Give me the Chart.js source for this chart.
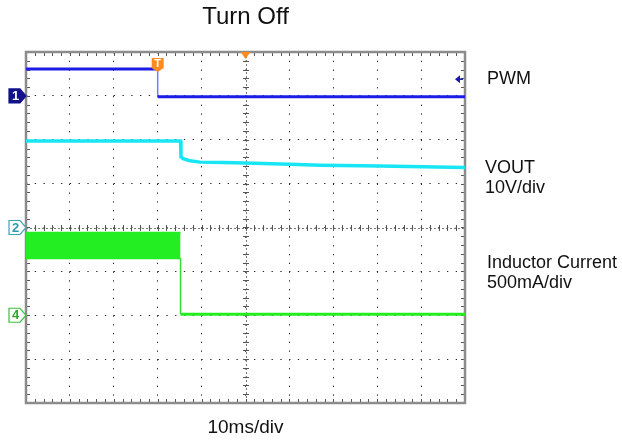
<!DOCTYPE html>
<html><head><meta charset="utf-8">
<script src="https://cdn.jsdelivr.net/npm/chart.js@4.4.1/dist/chart.umd.min.js"></script>
<style>
html,body{margin:0;padding:0;background:#fff;}
#wrap{position:relative;width:622px;height:440px;}
canvas{position:absolute;left:0;top:0;}
.lbl{position:absolute;font-family:"Liberation Sans",Arial,sans-serif;font-size:18px;line-height:19.5px;color:#111;white-space:nowrap;}
</style></head><body>
<div id="wrap"><canvas id="c" width="622" height="440"></canvas>
<div class="lbl" style="left:487px;top:69px">PWM</div>
<div class="lbl" style="left:485px;top:158px">VOUT<br>10V/div</div>
<div class="lbl" style="left:487px;top:253px">Inductor Current<br>500mA/div</div>
</div>
<script>
// Time axis in divisions (10 ms/div), vertical axis in screen divisions
const xDivs = [0,1,2,3,4,5,6,7,8,9,10];
const yDivs = [0,1,2,3,4,5,6,7,8];

// PWM (channel 1)
const pwmX = [0, 3.0, 3.0, 10];
const pwmY = [7.61, 7.61, 6.98, 6.98];

// VOUT (channel 2)
const voutX = [0, 3.52, 3.53, 3.58, 3.64, 3.74, 3.96, 4.5, 4.99, 6.01, 6.7, 8.06, 10];
const voutY = [5.97, 5.97, 5.61, 5.57, 5.55, 5.52, 5.49, 5.48, 5.47, 5.44, 5.42, 5.40, 5.37];

// Inductor current (channel 4): switching ripple band, then zero
const ilBandX = [0, 3.52];
const ilBandTop = [3.88, 3.88];
const ilBandBottom = [3.30, 3.30];
const ilX = [3.52, 3.52, 10];
const ilY = [3.30, 2.02, 2.02];

// Channel ground markers / trigger
const chLabels = ['1', '2', '4'];
const chLevels = [7.0, 4.0, 2.0];
const triggerTime = [3.0];
const triggerLevel = [7.38];
const centerTime = [5];

const pts = (xs, ys) => xs.map((x, i) => ({x, y: ys[i]}));
const vert = (c, w) => ({
  borderColor: ctx => ctx.p0.parsed.x === ctx.p1.parsed.x ? c : undefined,
  borderWidth: ctx => ctx.p0.parsed.x === ctx.p1.parsed.x ? w : undefined
});

const decor = {
  id: 'decor',
  beforeDatasetsDraw(chart) {
    const {ctx, chartArea: a, scales: {x, y}} = chart;
    ctx.save();
    // center cross
    const cx = x.getPixelForValue(5), cy = y.getPixelForValue(4);
    ctx.strokeStyle = '#777'; ctx.lineWidth = 1; ctx.setLineDash([2, 2]);
    ctx.beginPath();
    ctx.moveTo(Math.round(cx) + 0.5, a.top); ctx.lineTo(Math.round(cx) + 0.5, a.bottom);
    ctx.moveTo(a.left, Math.round(cy) + 0.5); ctx.lineTo(a.right, Math.round(cy) + 0.5);
    ctx.stroke(); ctx.setLineDash([]);
    ctx.strokeStyle = '#555';
    ctx.beginPath();
    for (let v = 0; v <= 10; v += 0.2) {
      const px = Math.round(x.getPixelForValue(v)) + 0.5;
      ctx.moveTo(px, cy - 2.5); ctx.lineTo(px, cy + 3.5);
      ctx.moveTo(px, a.top); ctx.lineTo(px, a.top + 4);
      ctx.moveTo(px, a.bottom); ctx.lineTo(px, a.bottom - 4);
    }
    for (let v = 0; v <= 8; v += 0.2) {
      const py = Math.round(y.getPixelForValue(v)) + 0.5;
      ctx.moveTo(cx - 2.5, py); ctx.lineTo(cx + 3.5, py);
      ctx.moveTo(a.left, py); ctx.lineTo(a.left + 4, py);
      ctx.moveTo(a.right, py); ctx.lineTo(a.right - 4, py);
    }
    ctx.stroke();
    // frame
    ctx.strokeStyle = '#8c8c8c'; ctx.lineWidth = 2.5;
    ctx.strokeRect(a.left, a.top, a.right - a.left, a.bottom - a.top);
    ctx.restore();
  },
  afterDatasetsDraw(chart) {
    const {ctx, chartArea: a, scales: {x, y}} = chart;
    ctx.save();
    // channel markers
    const styles = [
      {fill: '#12128c', stroke: '#12128c', text: '#fff'},
      {fill: '#fff', stroke: '#3aa5b5', text: '#2b9aab'},
      {fill: '#fff', stroke: '#3cbf3c', text: '#2ea82e'}
    ];
    chLabels.forEach((lab, i) => {
      const py = y.getPixelForValue(chLevels[i]);
      const st = styles[i];
      const l = a.left - 17, r = a.left;
      ctx.beginPath();
      ctx.moveTo(l, py - 7); ctx.lineTo(r - 6, py - 7); ctx.lineTo(r, py);
      ctx.lineTo(r - 6, py + 7); ctx.lineTo(l, py + 7); ctx.closePath();
      ctx.fillStyle = st.fill; ctx.fill();
      ctx.lineWidth = 1.2; ctx.strokeStyle = st.stroke; ctx.stroke();
      ctx.fillStyle = st.text; ctx.font = 'bold 13px "Liberation Sans", Arial';
      ctx.textAlign = 'center'; ctx.textBaseline = 'middle';
      ctx.fillText(lab, l + 6.5, py + 0.5);
    });
    // trigger position marker "T"
    triggerTime.forEach(t => {
      const px = x.getPixelForValue(t);
      const top = a.top + 6;
      ctx.beginPath();
      ctx.moveTo(px - 6, top); ctx.lineTo(px + 6, top); ctx.lineTo(px + 6, top + 10);
      ctx.lineTo(px, top + 14); ctx.lineTo(px - 6, top + 10); ctx.closePath();
      ctx.fillStyle = '#ff8a1e'; ctx.fill();
      ctx.fillStyle = '#fff'; ctx.font = 'bold 11px "Liberation Sans", Arial';
      ctx.textAlign = 'center'; ctx.textBaseline = 'middle';
      ctx.fillText('T', px, top + 6);
    });
    // horizontal center marker
    centerTime.forEach(t => {
      const px = x.getPixelForValue(t);
      ctx.beginPath();
      ctx.moveTo(px - 5, a.top); ctx.lineTo(px + 5, a.top); ctx.lineTo(px, a.top + 7); ctx.closePath();
      ctx.fillStyle = '#ff8a1e'; ctx.fill();
    });
    // trigger level arrow
    triggerLevel.forEach(v => {
      const py = y.getPixelForValue(v);
      const px = a.right - 10;
      ctx.beginPath();
      ctx.moveTo(px, py); ctx.lineTo(px + 5, py - 4); ctx.lineTo(px + 5, py + 4); ctx.closePath();
      ctx.fillStyle = '#1a1aa8'; ctx.fill();
      ctx.fillRect(px + 5, py - 0.75, 3, 1.5);
    });
    ctx.restore();
  }
};

new Chart(document.getElementById('c'), {
  type: 'scatter',
  data: {
    datasets: [
      {label: 'PWM', data: pts(pwmX, pwmY), showLine: true, borderColor: '#1c1ce6', borderWidth: 3,
       pointRadius: 0, segment: vert('#7a7aff', 1.5)},
      {label: 'VOUT', data: pts(voutX, voutY), showLine: true, borderColor: '#18e6f4', borderWidth: 3.5,
       pointRadius: 0, segment: vert('#18e6f4', 2)},
      {label: 'IL ripple top', data: pts(ilBandX, ilBandTop), showLine: true, borderColor: '#22ee22', borderWidth: 2,
       pointRadius: 0, fill: '+1', backgroundColor: '#22ee22'},
      {label: 'IL ripple bottom', data: pts(ilBandX, ilBandBottom), showLine: true, borderColor: '#22ee22', borderWidth: 2,
       pointRadius: 0},
      {label: 'Inductor Current', data: pts(ilX, ilY), showLine: true, borderColor: '#22ee22', borderWidth: 3,
       pointRadius: 0, segment: vert('#33dd33', 1.5)}
    ]
  },
  options: {
    responsive: false, animation: false, devicePixelRatio: 1,
    layout: {padding: {left: 26, right: 157, top: 0, bottom: 0}},
    plugins: {
      legend: {display: false}, tooltip: {enabled: false},
      title: {display: true, text: 'Turn Off', color: '#111',
        font: {family: '"Liberation Sans", Arial, sans-serif', size: 24, weight: 'normal'},
        padding: {top: 3, bottom: 20.2}}
    },
    scales: {
      x: {type: 'linear', min: 0, max: 10,
        afterBuildTicks: s => { s.ticks = xDivs.map(v => ({value: v})); },
        ticks: {display: false},
        grid: {color: '#222', lineWidth: 1, drawTicks: false},
        border: {display: false, dash: [1.3, 7.48]},
        title: {display: true, text: '10ms/div', color: '#111',
          font: {family: '"Liberation Sans", Arial, sans-serif', size: 19},
          padding: {top: 13.2, bottom: 1}}},
      y: {type: 'linear', min: 0, max: 8,
        afterBuildTicks: s => { s.ticks = yDivs.map(v => ({value: v})); },
        ticks: {display: false},
        grid: {color: '#222', lineWidth: 1, drawTicks: false},
        border: {display: false, dash: [1.3, 7.47]}}
    }
  },
  plugins: [decor]
});
</script>
</body></html>
